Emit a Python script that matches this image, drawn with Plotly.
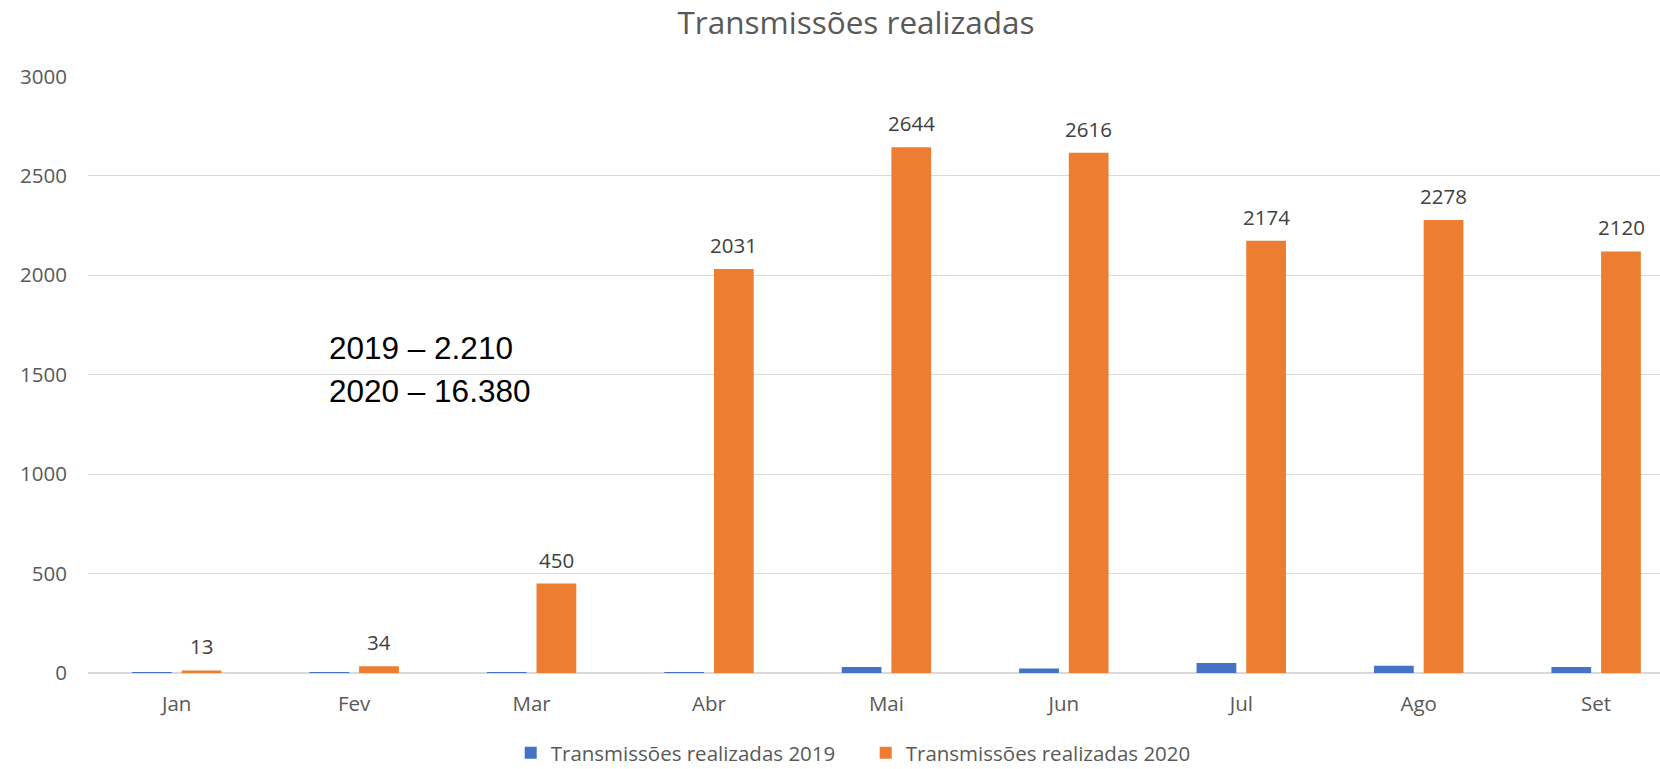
import plotly.graph_objects as go

months = ["Jan", "Fev", "Mar", "Abr", "Mai", "Jun", "Jul", "Ago", "Set"]
values_2019 = [5, 3, 5, 3, 30, 22, 50, 36, 30]
values_2020 = [13, 34, 450, 2031, 2644, 2616, 2174, 2278, 2120]
y_ticks = [0, 500, 1000, 1500, 2000, 2500, 3000]
name_2019 = "Transmissões realizadas 2019"
name_2020 = "Transmissões realizadas 2020"
title_text = "Transmissões realizadas"
totals_text = ["2019 – 2.210", "2020 – 16.380"]

FONT = "Open Sans"
GREY = "#595959"

fig = go.Figure()
fig.add_trace(go.Bar(x=months, y=values_2019, name=name_2019,
                     marker=dict(color="#4472C4", line=dict(width=0))))
fig.add_trace(go.Bar(x=months, y=values_2020, name=name_2020,
                     marker=dict(color="#ED7D31", line=dict(width=0))))

# data labels above the 2020 bars
for m, v in zip(months, values_2020):
    fig.add_annotation(x=m, y=v, xref="x", yref="y", text=str(v), showarrow=False,
                       xanchor="center", yanchor="middle", xshift=25, yshift=24,
                       font=dict(size=20.5, color="#404040", family=FONT))

# totals text box
for txt, yy in zip(totals_text, [0.5441, 0.4727]):
    fig.add_annotation(x=0.152, y=yy, xref="paper", yref="paper", xanchor="left", yanchor="middle",
                       text=txt, showarrow=False, align="left",
                       font=dict(size=31.5, color="#000000", family="Liberation Sans"))

fig.update_layout(
    width=1660, height=769,
    margin=dict(l=88, r=0, t=76, b=96, autoexpand=False),
    paper_bgcolor="white", plot_bgcolor="white",
    title=dict(text=title_text, x=0.5157, xanchor="center", y=0.97, yanchor="middle",
               font=dict(size=31.5, color=GREY, family=FONT)),
    barmode="group", bargap=0.44, bargroupgap=0.2,
    showlegend=True,
    legend=dict(orientation="h", x=0.2689, xanchor="left", y=-0.134, yanchor="middle",
                entrywidth=310, entrywidthmode="pixels", tracegroupgap=0,
                font=dict(size=20.5, color=GREY, family=FONT)),
    xaxis=dict(range=[-0.5, 8.36], showgrid=False, tickfont=dict(size=20.5, color=GREY, family=FONT),
               showline=False, ticks="", ticklabelstandoff=16, automargin=False),
    yaxis=dict(range=[0, 3002], tickvals=y_ticks, showgrid=True, gridcolor="#D9D9D9", gridwidth=1.3,
               zeroline=True, zerolinecolor="#D9D9D9", zerolinewidth=2,
               tickfont=dict(size=20.5, color=GREY, family=FONT), ticklabelstandoff=20, automargin=False),
)

fig.write_html("out.html", config={"displayModeBar": False},
               post_script="document.body.style.margin='0';")
